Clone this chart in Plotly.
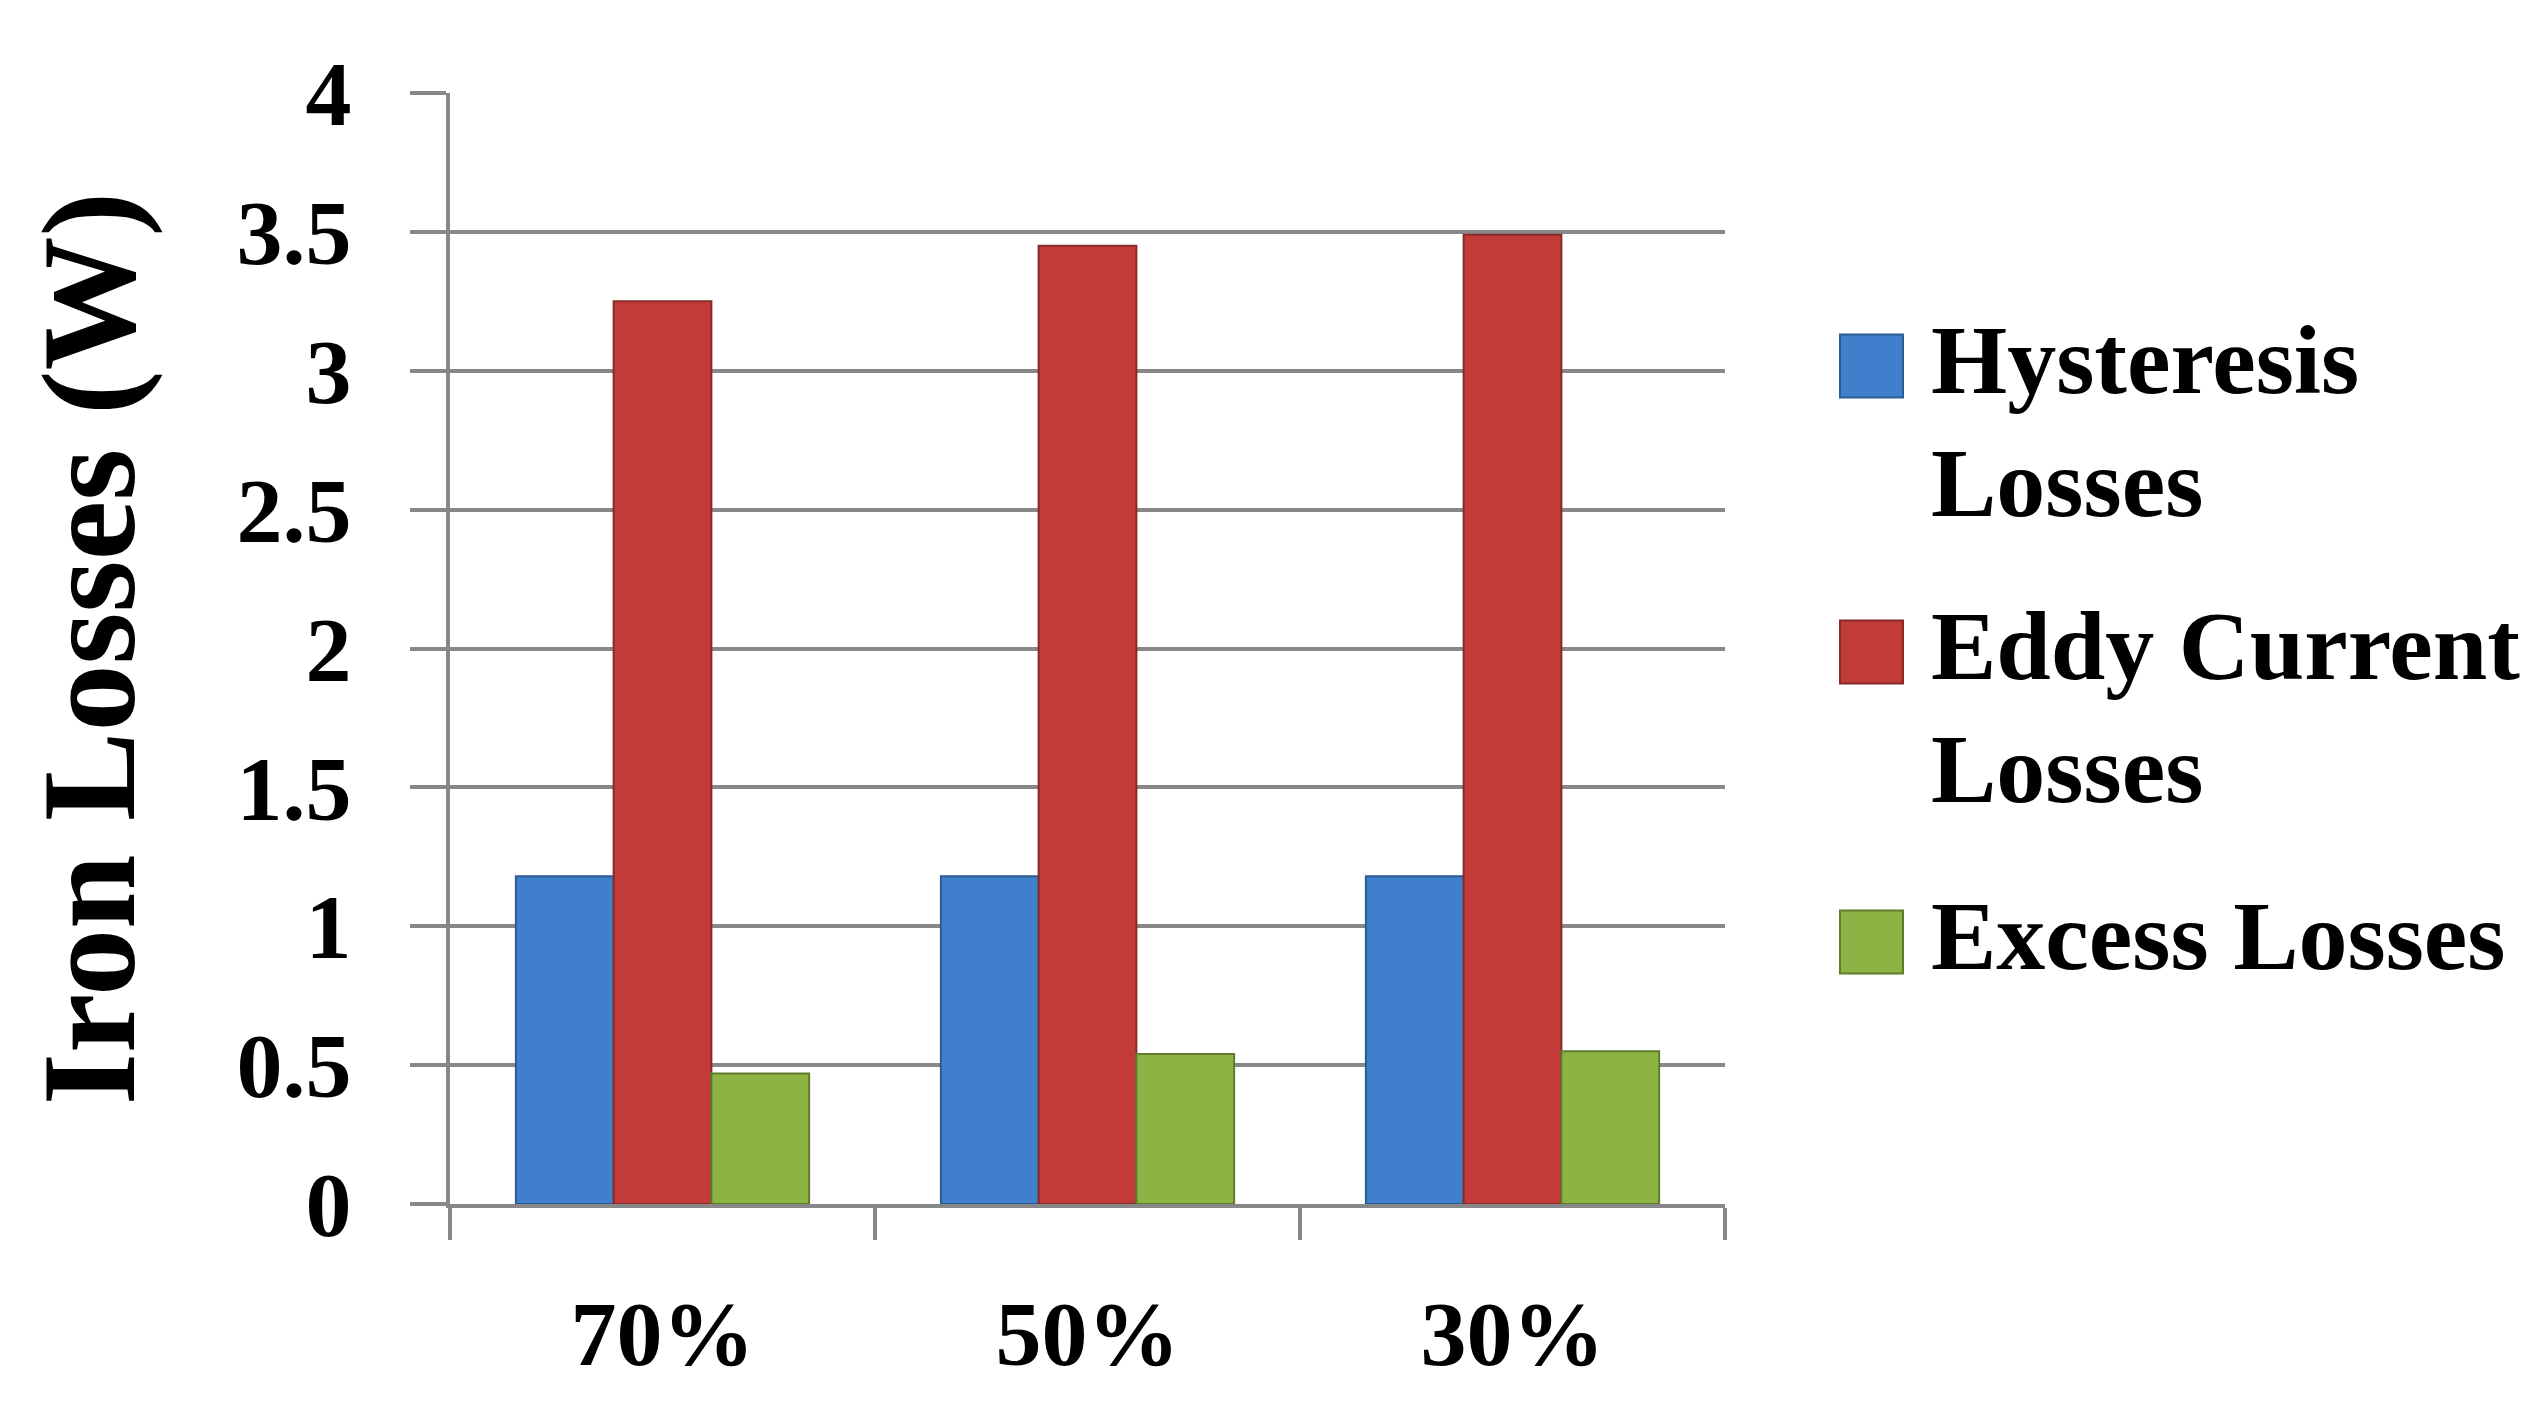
import plotly.graph_objects as go

# ---------------- data ----------------
categories = ["70%", "50%", "30%"]
hysteresis_losses = [1.18, 1.18, 1.18]
eddy_current_losses = [3.25, 3.45, 3.49]
excess_losses = [0.47, 0.54, 0.55]
series_names = ["Hysteresis Losses", "Eddy Current Losses", "Excess Losses"]
legend_labels = ["Hysteresis<br>Losses", "Eddy Current<br>Losses", "Excess Losses"]
y_tick_values = [0, 0.5, 1, 1.5, 2, 2.5, 3, 3.5, 4]
y_tick_labels = ["0", "0.5", "1", "1.5", "2", "2.5", "3", "3.5", "4"]
y_title = "Iron Losses (W)"

# ---------------- style ----------------
BODY = 8                      # default page margin around the plot div
W, H = 2547 - 2 * BODY, 1415 - 2 * BODY
M = dict(l=442, r=814, t=85, b=203)
FONT = "Liberation Serif"
GRID = "#888888"
fills = ["#3F7FCC", "#C23B39", "#8DB345"]
edges = ["#2D5B93", "#872B29", "#5E7C2A"]


def paper_x(px):
    return (px - BODY - M["l"]) / (W - M["l"] - M["r"])


def paper_y(py):
    return (H - M["b"] - (py - BODY)) / (H - M["t"] - M["b"])


fig = go.Figure()
for name, vals, fc, ec in zip(series_names,
                              [hysteresis_losses, eddy_current_losses, excess_losses],
                              fills, edges):
    fig.add_trace(go.Bar(
        x=categories, y=vals, name=name,
        marker=dict(color=fc, line=dict(color=ec, width=2)),
        showlegend=False,
    ))

# custom legend (large swatches like the reference)
swatch_left, swatch_size, text_left = 1840, 63, 1929
item_centers = [366, 652, 942]
line_step = 123
text_nudge = -6
shapes = []
annotations = []
for lab, fc, ec, cy in zip(legend_labels, fills, edges, item_centers):
    shapes.append(dict(
        type="rect", xref="paper", yref="paper",
        x0=paper_x(swatch_left), x1=paper_x(swatch_left + swatch_size),
        y0=paper_y(cy + swatch_size / 2), y1=paper_y(cy - swatch_size / 2),
        fillcolor=fc, line=dict(color=ec, width=2),
    ))
    for i, part in enumerate(lab.split("<br>")):
        annotations.append(dict(
            text=part, xref="paper", yref="paper",
            x=paper_x(text_left), y=paper_y(cy + text_nudge + i * line_step),
            xanchor="left", yanchor="middle", showarrow=False,
            font=dict(family=FONT, size=98, color="black", weight="bold"),
        ))

fig.update_layout(
    width=W, height=H,
    margin=M,
    paper_bgcolor="white", plot_bgcolor="white",
    barmode="group", bargap=0.31, bargroupgap=0,
    shapes=shapes, annotations=annotations,
    showlegend=False,
)

fig.update_xaxes(
    type="category",
    showline=True, linecolor=GRID, linewidth=4,
    ticks="outside", tickson="boundaries", ticklen=32, tickwidth=4, tickcolor=GRID,
    showgrid=False,
    tickfont=dict(family=FONT, size=92, color="black", weight="bold"),
    ticklabelstandoff=47,
)
fig.update_yaxes(
    range=[0, 4],
    tickvals=y_tick_values, ticktext=y_tick_labels,
    showline=True, linecolor=GRID, linewidth=4,
    ticks="outside", ticklen=36, tickwidth=4, tickcolor=GRID,
    showgrid=True, gridcolor=GRID, gridwidth=4,
    zeroline=False,
    tickfont=dict(family=FONT, size=92, color="black", weight="bold"),
    ticklabelstandoff=40,
    title=dict(text=y_title, standoff=58,
               font=dict(family=FONT, size=134, color="black", weight="bold")),
    automargin=False,
)

fig.write_html("out.html")
